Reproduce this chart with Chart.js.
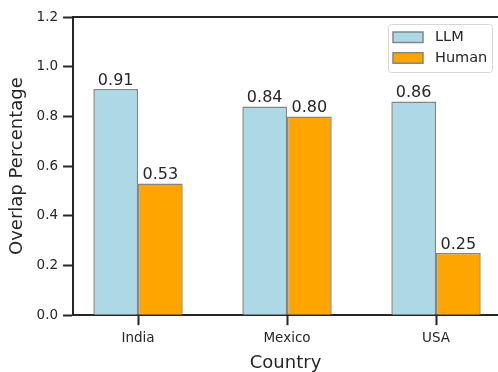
<!DOCTYPE html>
<html>
<head>
<meta charset="utf-8">
<script src="https://cdn.jsdelivr.net/npm/chart.js@4"></script>
<style>
html,body{margin:0;padding:0;background:#fff;overflow:hidden;}
canvas{display:block;}
</style>
</head>
<body>
<canvas id="c" width="498" height="372"></canvas>
<script>
const categories = ["India", "Mexico", "USA"];
const llmValues = [0.91, 0.84, 0.86];
const humanValues = [0.53, 0.80, 0.25];
const seriesNames = ["LLM", "Human"];
const yTicks = [0.0, 0.2, 0.4, 0.6, 0.8, 1.0, 1.2];

const TEXT = '#262626';
const FONT = 'DejaVu Sans';

const toPoints = arr => arr.map((v, i) => ({x: i, y: v}));

const topSpine = {
  id: 'topSpine',
  afterDraw(chart) {
    const {ctx, chartArea} = chart;
    ctx.save();
    ctx.strokeStyle = TEXT;
    ctx.lineWidth = 2;
    ctx.beginPath();
    ctx.moveTo(chartArea.left - 1, chartArea.top);
    ctx.lineTo(chartArea.right + 2, chartArea.top);
    ctx.stroke();
    ctx.restore();
  }
};

const barLabels = {
  id: 'barLabels',
  afterDatasetsDraw(chart) {
    const {ctx} = chart;
    ctx.save();
    ctx.font = '16px "' + FONT + '"';
    ctx.fillStyle = TEXT;
    ctx.textAlign = 'center';
    ctx.textBaseline = 'bottom';
    chart.data.datasets.forEach((ds, di) => {
      const meta = chart.getDatasetMeta(di);
      meta.data.forEach((bar, i) => {
        ctx.fillText(ds.data[i].y.toFixed(2), bar.x, bar.y - 0.5);
      });
    });
    ctx.restore();
  }
};

const boxLegend = {
  id: 'boxLegend',
  afterDraw(chart) {
    const {ctx, chartArea} = chart;
    const right = chartArea.right - 6;
    const left = right - 104;
    const top = chartArea.top + 7;
    const h = 48;
    ctx.save();
    ctx.fillStyle = 'rgba(255,255,255,0.8)';
    ctx.strokeStyle = '#d6d6d6';
    ctx.lineWidth = 1;
    ctx.beginPath();
    ctx.roundRect(left + 0.5, top + 0.5, right - left, h, 3);
    ctx.fill();
    ctx.stroke();
    ctx.font = '14.5px "' + FONT + '"';
    ctx.textBaseline = 'middle';
    ctx.textAlign = 'left';
    chart.data.datasets.forEach((ds, i) => {
      const y = top + 8 + i * 20.7;
      ctx.fillStyle = ds.backgroundColor;
      ctx.strokeStyle = ds.borderColor;
      ctx.lineWidth = 1.5;
      ctx.fillRect(left + 5, y, 30, 10.5);
      ctx.strokeRect(left + 5, y, 30, 10.5);
      ctx.fillStyle = TEXT;
      ctx.fillText(ds.label, left + 47, y + 5.5);
    });
    ctx.restore();
  }
};

new Chart(document.getElementById('c'), {
  type: 'bar',
  data: {
    datasets: [
      {label: seriesNames[0], data: toPoints(llmValues), backgroundColor: '#add8e6', borderColor: '#858585', borderWidth: 1.5},
      {label: seriesNames[1], data: toPoints(humanValues), backgroundColor: '#ffa500', borderColor: '#858585', borderWidth: 1.5}
    ]
  },
  options: {
    responsive: false,
    animation: false,
    events: [],
    categoryPercentage: 0.6,
    barPercentage: 1.0,
    layout: {padding: {left: 7, top: 17, right: 0, bottom: -2}},
    plugins: {legend: {display: false}, tooltip: {enabled: false}},
    scales: {
      x: {
        type: 'linear',
        offset: false,
        min: -0.436,
        max: 2.416,
        afterBuildTicks(scale) { scale.ticks = categories.map((c, i) => ({value: i})); },
        ticks: {
          callback: v => categories[v],
          color: TEXT, font: {family: FONT, size: 13.5}, padding: 5, maxRotation: 0, autoSkip: false
        },
        grid: {offset: false, drawOnChartArea: false, drawTicks: true, tickLength: 10, tickWidth: 2, tickColor: TEXT},
        border: {display: true, color: TEXT, width: 2},
        title: {display: true, text: 'Country', color: TEXT, font: {family: FONT, size: 18}, padding: {top: 1, bottom: 0}}
      },
      y: {
        min: 0,
        max: 1.2,
        afterBuildTicks(scale) { scale.ticks = yTicks.map(v => ({value: v})); },
        ticks: {
          callback: v => v.toFixed(1),
          color: TEXT, font: {family: FONT, size: 13.5}, padding: 5
        },
        grid: {drawOnChartArea: false, drawTicks: true, tickLength: 10, tickWidth: 2, tickColor: TEXT},
        border: {display: true, color: TEXT, width: 2},
        title: {display: true, text: 'Overlap Percentage', color: TEXT, font: {family: FONT, size: 18}, padding: {top: 0, bottom: 3}}
      }
    }
  },
  plugins: [topSpine, barLabels, boxLegend]
});
</script>
</body>
</html>
